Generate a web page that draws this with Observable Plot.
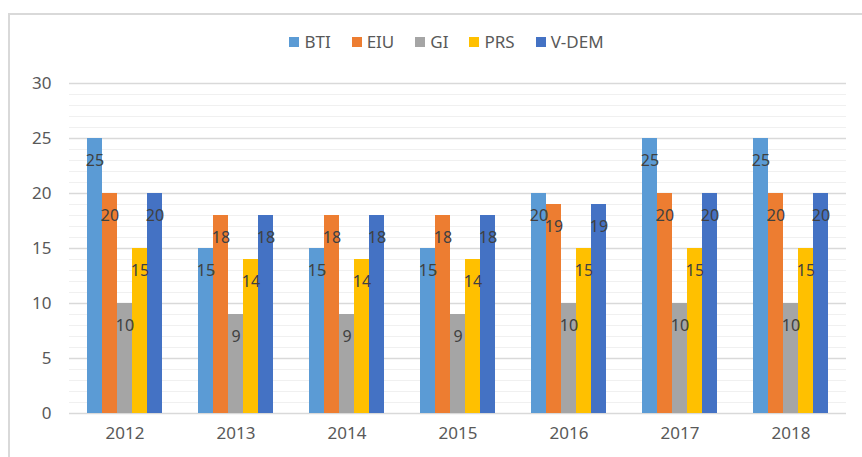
<!DOCTYPE html>
<html>
<head>
<meta charset="utf-8">
<script src="https://cdn.jsdelivr.net/npm/d3@7"></script>
<script src="https://cdn.jsdelivr.net/npm/@observablehq/plot@0.6"></script>
<style>
  html, body { margin: 0; padding: 0; background: #fff; }
  #wrap { position: relative; width: 862px; height: 457px; overflow: hidden; font-family: "Noto Sans", sans-serif; }
  #frame { position: absolute; left: 8px; top: 13px; width: 870px; height: 470px; border-left: 2px solid #d9d9d9; border-top: 2px solid #d9d9d9; box-sizing: border-box; }
  #legend { position: absolute; top: 30px; left: 0; width: 893px; display: flex; justify-content: center; gap: 21px; font-size: 17px; color: #595959; }
  #legend span.item { display: flex; align-items: center; gap: 5px; }
  #legend span.sw { width: 10px; height: 10px; display: inline-block; }
  #chart { position: absolute; left: 0; top: 60px; }
</style>
</head>
<body>
<div id="wrap">
  <div id="frame"></div>
  <div id="legend"></div>
  <div id="chart"></div>
</div>
<script>
const years = ["2012", "2013", "2014", "2015", "2016", "2017", "2018"];
const series = ["BTI", "EIU", "GI", "PRS", "V-DEM"];
const colors = ["#5B9BD5", "#ED7D31", "#A5A5A5", "#FFC000", "#4472C4"];
const BTI  = [25, 15, 15, 15, 20, 25, 25];
const EIU  = [20, 18, 18, 18, 19, 20, 20];
const GI   = [10, 9, 9, 9, 10, 10, 10];
const PRS  = [15, 14, 14, 14, 15, 15, 15];
const VDEM = [20, 18, 18, 18, 19, 20, 20];
const yTicks = [0, 5, 10, 15, 20, 25, 30];

const valuesBySeries = [BTI, EIU, GI, PRS, VDEM];
const data = [];
years.forEach((yr, i) => {
  series.forEach((s, j) => data.push({year: yr, series: s, value: valuesBySeries[j][i]}));
});

const legend = document.getElementById("legend");
series.forEach((s, j) => {
  const it = document.createElement("span");
  it.className = "item";
  it.innerHTML = `<span class="sw" style="background:${colors[j]}"></span><span>${s}</span>`;
  legend.appendChild(it);
});

const minor = d3.range(0, 31).filter(v => v % 5 !== 0);

const chart = Plot.plot({
  width: 862,
  height: 397,
  marginTop: 23,
  marginBottom: 44,
  marginLeft: 67,
  marginRight: 14,
  style: {fontFamily: "Noto Sans, sans-serif", fontSize: "17px", color: "#595959", background: "transparent"},
  fx: {domain: years, padding: 0, label: null, tickSize: 0, tickPadding: 13, axis: "bottom"},
  x: {domain: series, paddingInner: 0, paddingOuter: 1.03, axis: null},
  y: {domain: [0, 30], ticks: yTicks, label: null, tickSize: 0, tickPadding: 18},
  color: {domain: series, range: colors},
  marks: [
    Plot.ruleY(minor, {stroke: "#f0f0f0", strokeWidth: 1}),
    Plot.ruleY(yTicks, {stroke: "#d9d9d9", strokeWidth: 1.5}),
    Plot.barY(data, {fx: "year", x: "series", y: "value", fill: "series"}),
    Plot.text(data, {fx: "year", x: "series", y: "value", text: d => String(d.value), dy: 22, fill: "#404040", fontSize: 16})
  ]
});
document.getElementById("chart").appendChild(chart);
</script>
</body>
</html>
